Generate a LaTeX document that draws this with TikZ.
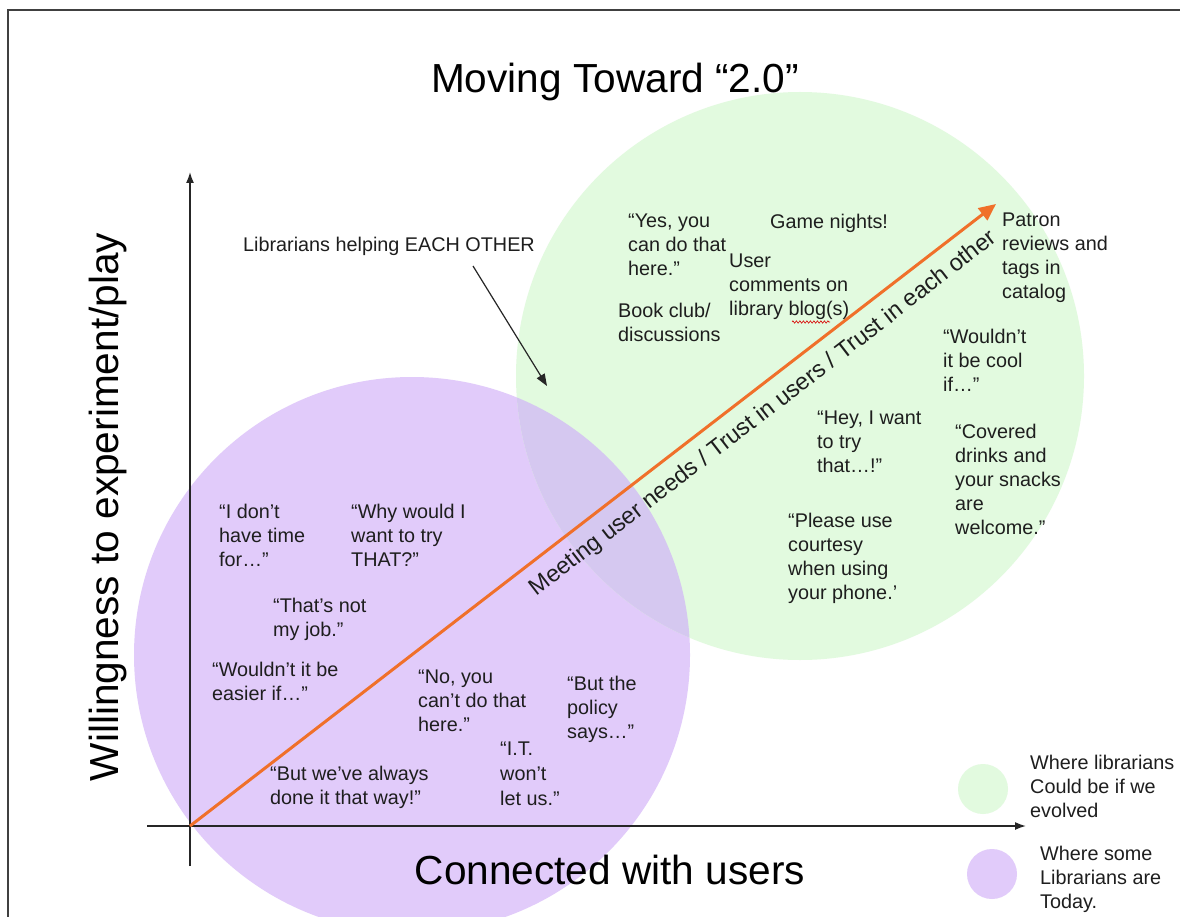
\documentclass[tikz,border=0pt]{standalone}
\usepackage{fontspec}
\setmainfont{Liberation Sans}
\usetikzlibrary{arrows.meta,decorations.pathmorphing}
\definecolor{gcirc}{HTML}{E2FADF}
\definecolor{pcirc}{HTML}{E1CBFA}
\definecolor{ovl}{HTML}{D5C8F0}
\definecolor{arr}{HTML}{F0702A}
\definecolor{txt}{HTML}{1E1E1E}
\begin{document}
\begin{tikzpicture}[x=1pt,y=-1pt,
  lbl/.style={anchor=north west,inner sep=0pt,align=left,text=txt,font=\fontsize{19.8}{24}\selectfont},
  axis/.style={line width=1.6pt,draw=black!85,-{Latex[length=11pt,width=8pt]}},
  big/.style={inner sep=0pt,text=black,font=\fontsize{40.6}{46}\selectfont}]
\useasboundingbox (0,0) rectangle (1180,917);
\fill[white] (0,0) rectangle (1180,917);
% frame
\draw[line width=2pt,draw=black!75] (8,925) -- (8,10) -- (1190,10);
% circles
\fill[pcirc] (412,655) circle (278);
\fill[gcirc] (800,376) circle (284);
\begin{scope}
  \clip (412,655) circle (278);
  \fill[ovl] (800,376) circle (284);
\end{scope}
% title
\node[big] (title) at (615,82) {Moving Toward “2.0”};
% axes
\coordinate (O) at (190,826);
\coordinate (ybot) at (190,866);
\coordinate (ytop) at (190,172);
\coordinate (xl) at (147,826);
\coordinate (xr) at (1026,826);
\draw[axis] (ybot) -- (ytop);
\draw[axis] (xl) -- (xr);
\node[big,rotate=90] (ylab) at (108,507) {Willingness to experiment/play};
\node[big] (xlab) at (610,870) {Connected with users};
% orange arrow
\coordinate (tip) at (996,204);
\draw[line width=3pt,draw=arr,-{Triangle[length=17pt,width=15pt]}] (O) -- (tip);
\node[rotate=37.65,inner sep=0pt,text=txt,font=\fontsize{23.5}{26}\selectfont] (trust) at (763.5,414) {Meeting user needs / Trust in users / Trust in each other};
% helping arrow
\node[lbl,anchor=base west] (help) at (243,252) {Librarians helping EACH OTHER};
\coordinate (hs) at (473,266);
\coordinate (he) at (547,386);
\draw[line width=1.2pt,draw=black!85,-{Triangle[length=12pt,width=9pt]}] (hs) -- (he);
% green texts
\node[lbl] (yes) at (628,214) {“Yes, you\\can do that\\here.”};
\node[lbl] (game) at (770,214) {Game nights!};
\node[lbl] (user) at (729,254) {User\\comments on\\library blog(s)};
\draw[red!85!black,line width=0.6pt,decorate,decoration={zigzag,amplitude=1.2pt,segment length=3.5pt}] (792,322) -- (830,322);
\node[lbl] (book) at (618,303) {Book club/\\discussions};
\node[lbl] (patron) at (1002,213) {Patron\\reviews and\\tags in\\catalog};
\node[lbl] (cool) at (943,329) {“Wouldn’t\\it be cool\\if…”};
\node[lbl] (hey) at (817,411) {“Hey, I want\\to try\\that…!”};
\node[lbl] (drinks) at (955,424) {“Covered\\drinks and\\your snacks\\are\\welcome.”};
\node[lbl] (phone) at (788,513) {“Please use\\courtesy\\when using\\your phone.’};
% purple texts
\node[lbl] (time) at (219,504) {“I don’t\\have time\\for…”};
\node[lbl] (why) at (351,504) {“Why would I\\want to try\\THAT?”};
\node[lbl] (job) at (273,598) {“That’s not\\my job.”};
\node[lbl] (easier) at (212,662) {“Wouldn’t it be\\easier if…”};
\node[lbl] (no) at (418,670) {“No, you\\can’t do that\\here.”};
\node[lbl] (policy) at (567,676) {“But the\\policy\\says…”};
\node[lbl,font=\fontsize{19.8}{25}\selectfont] (it) at (500,742) {“I.T.\\won’t\\let us.”};
\node[lbl] (always) at (270,766) {“But we’ve always\\done it that way!”};
% legend
\fill[gcirc] (983,789) circle (25);
\node (lg) at (983,789) {};
\fill[pcirc] (992,874) circle (25);
\node (lp) at (992,874) {};
\node[lbl] (legg) at (1030,755) {Where librarians\\Could be if we\\evolved};
\node[lbl] (legp) at (1040,846) {Where some\\Librarians are\\Today.};
\end{tikzpicture}
\end{document}
